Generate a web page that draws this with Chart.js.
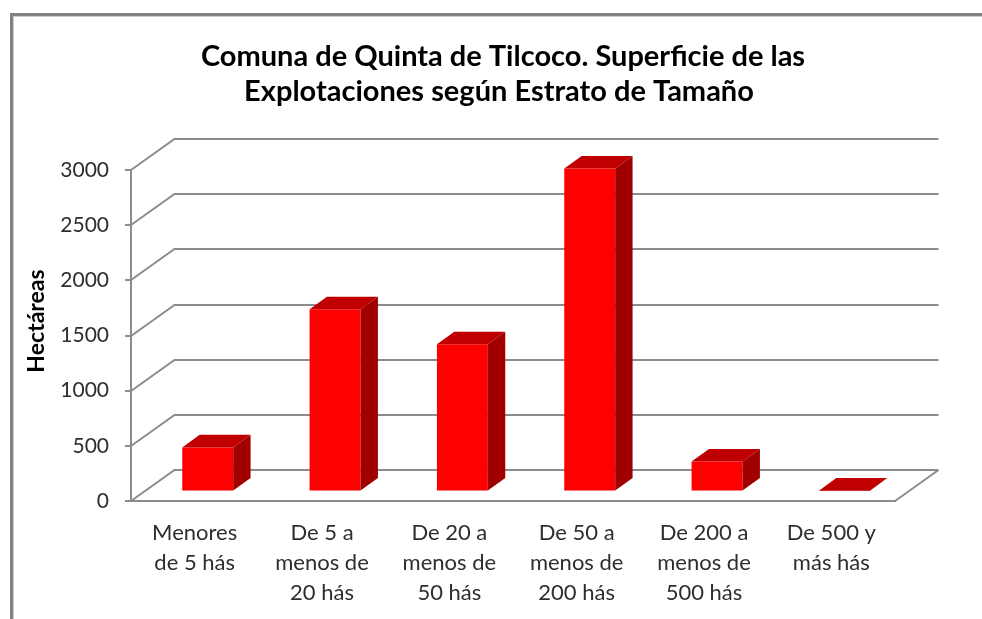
<!DOCTYPE html>
<html><head><meta charset="utf-8">
<script src="https://cdn.jsdelivr.net/npm/chart.js@4.4.1/dist/chart.umd.min.js"></script>
<style>html,body{margin:0;padding:0;background:#fff;overflow:hidden}canvas{display:block}</style>
</head><body>
<canvas id="c" width="982" height="619"></canvas>
<script>
// ---- data ----
const categories = [
  ['Menores', 'de 5 hás'],
  ['De 5 a', 'menos de', '20 hás'],
  ['De 20 a', 'menos de', '50 hás'],
  ['De 50 a', 'menos de', '200 hás'],
  ['De 200 a', 'menos de', '500 hás'],
  ['De 500 y', 'más hás']
];
const surface = [400, 1652, 1335, 2928, 272, 8];
const yTickValues = [0, 500, 1000, 1500, 2000, 2500, 3000];
const titleLines = ['Comuna de Quinta de Tilcoco. Superficie de las', 'Explotaciones según Estrato de Tamaño'];
const yAxisTitle = 'Hectáreas';

// ---- style ----
const DEPTH = { dx: 43.5, dy: -31.5 };
const BAR_FRONT = 0.3, BAR_DEPTH = 0.4;
const GRID = '#8c8c8c';
const FONT = 'Lato, "Open Sans", sans-serif';

const box3d = {
  id: 'box3d',
  beforeDraw(chart) {
    const ctx = chart.ctx;
    ctx.save();
    ctx.fillStyle = '#ffffff';
    ctx.fillRect(0, 0, chart.width, chart.height);
    // outer frame (cut at right/bottom)
    ctx.fillStyle = '#838383';
    ctx.fillRect(10, 13, 3, chart.height - 13);
    ctx.fillRect(10, 13, chart.width - 10, 3);
    ctx.fillStyle = '#cfcfcf';
    ctx.fillRect(13, 16, 1, chart.height - 16);
    ctx.fillRect(13, 16, chart.width - 13, 1);
    // title
    ctx.fillStyle = '#000';
    ctx.textAlign = 'center';
    ctx.textBaseline = 'alphabetic';
    ctx.font = 'bold 29px ' + FONT;
    ctx.fillText(titleLines[0], 503, 66);
    ctx.fillText(titleLines[1], 499, 101);
    // y axis title
    ctx.translate(37, 321);
    ctx.rotate(-Math.PI / 2);
    ctx.textBaseline = 'middle';
    ctx.font = 'bold 23px ' + FONT;
    ctx.fillText(yAxisTitle, 0, 0);
    ctx.restore();
  },
  beforeDatasetsDraw(chart) {
    const ctx = chart.ctx;
    const { left, right } = chart.chartArea;
    const ys = chart.scales.y;
    ctx.save();
    ctx.strokeStyle = GRID;
    ctx.lineWidth = 2;
    ctx.beginPath();
    yTickValues.forEach(v => {
      const y = Math.round(ys.getPixelForValue(v));
      const yb = Math.round(y + DEPTH.dy);
      ctx.moveTo(left, y);
      ctx.lineTo(left + DEPTH.dx, yb);
      ctx.lineTo(right + DEPTH.dx, yb);
    });
    const y0 = Math.round(ys.getPixelForValue(0));
    ctx.moveTo(right, y0);
    ctx.lineTo(right + DEPTH.dx, Math.round(y0 + DEPTH.dy));
    ctx.stroke();
    ctx.restore();
    // shift bars into the box depth
    ctx.save();
    ctx.translate(BAR_FRONT * DEPTH.dx, BAR_FRONT * DEPTH.dy);
  },
  afterDatasetsDraw(chart) {
    const ctx = chart.ctx;
    const ddx = BAR_DEPTH * DEPTH.dx, ddy = BAR_DEPTH * DEPTH.dy;
    chart.getDatasetMeta(0).data.forEach(el => {
      const { x, y, base, width } = el.getProps(['x', 'y', 'base', 'width'], true);
      const l = x - width / 2, r = x + width / 2;
      ctx.fillStyle = '#c00000';
      ctx.beginPath();
      ctx.moveTo(l, y); ctx.lineTo(r, y);
      ctx.lineTo(r + ddx, y + ddy); ctx.lineTo(l + ddx, y + ddy);
      ctx.closePath(); ctx.fill();
      ctx.fillStyle = '#a00000';
      ctx.beginPath();
      ctx.moveTo(r, y); ctx.lineTo(r + ddx, y + ddy);
      ctx.lineTo(r + ddx, base + ddy); ctx.lineTo(r, base);
      ctx.closePath(); ctx.fill();
    });
    ctx.restore();
  }
};

new Chart(document.getElementById('c'), {
  type: 'bar',
  data: {
    labels: categories,
    datasets: [{
      data: surface,
      backgroundColor: '#ff0000',
      borderWidth: 0,
      categoryPercentage: 1,
      barPercentage: 0.4,
      clip: false
    }]
  },
  options: {
    responsive: false,
    animation: false,
    devicePixelRatio: 1,
    layout: { padding: { top: 170, right: 87, left: 0, bottom: 0 } },
    plugins: { legend: { display: false }, tooltip: { enabled: false }, title: { display: false } },
    scales: {
      x: {
        grid: { display: false, drawTicks: false },
        border: { display: true, color: GRID, width: 2 },
        ticks: {
          color: '#2e2e2e', padding: 17, maxRotation: 0, autoSkip: false,
          font: { family: FONT, size: 22, lineHeight: '30px' }
        },
        afterFit(s) { s.height = 118; }
      },
      y: {
        min: 0, max: 3000,
        afterBuildTicks(s) { s.ticks = yTickValues.map(v => ({ value: v })); },
        grid: { drawOnChartArea: false, drawTicks: true, tickLength: 6, color: GRID, lineWidth: 2 },
        border: { display: true, color: GRID, width: 2 },
        ticks: {
          color: '#2e2e2e', padding: 16,
          font: { family: FONT, size: 21 },
          callback: v => String(v)
        },
        afterFit(s) { s.width = 131; }
      }
    }
  },
  plugins: [box3d]
});
</script>
</body></html>
